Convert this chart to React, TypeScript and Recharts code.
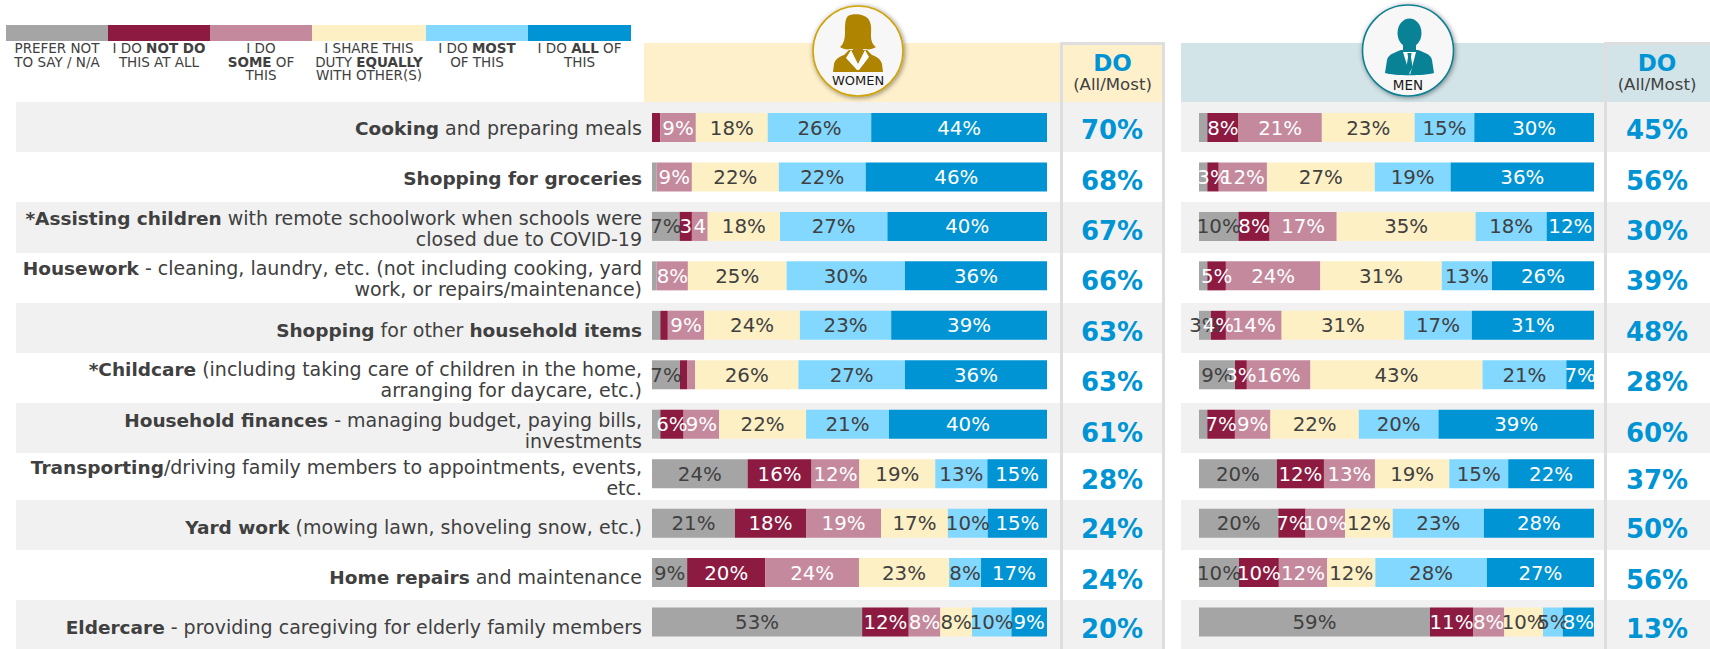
import React from "react";
import { BarChart, Bar, XAxis, YAxis, LabelList } from "recharts";

const FONT = "'DejaVu Sans', Verdana, sans-serif";
const TEXT = "#404040";
const BLUE = "#0094d4";

const seriesKeys = ["none", "not", "some", "equal", "most", "all"];
const seriesColors = ["#a5a5a5", "#8c1a41", "#c5899d", "#fef0c5", "#82d8ff", "#0094d4"];
const labelColors = [TEXT, "#ffffff", "#ffffff", TEXT, TEXT, "#ffffff"];
const legendLabels = [
  ["PREFER NOT", "TO SAY / N/A"],
  ["I DO **NOT DO**", "THIS AT ALL"],
  ["I DO", "**SOME** OF", "THIS"],
  ["I SHARE THIS", "DUTY **EQUALLY**", "WITH OTHER(S)"],
  ["I DO **MOST**", "OF THIS"],
  ["I DO **ALL** OF", "THIS"],
];

const categories = [
  ["**Cooking** and preparing meals"],
  ["**Shopping for groceries**"],
  ["***Assisting children** with remote schoolwork when schools were", "closed due to COVID-19"],
  ["**Housework** - cleaning, laundry, etc. (not including cooking, yard", "work, or repairs/maintenance)"],
  ["**Shopping** for other **household items**"],
  ["***Childcare** (including taking care of children in the home,", "arranging for daycare, etc.)"],
  ["**Household finances** - managing budget, paying bills,", "investments"],
  ["**Transporting**/driving family members to appointments, events,", "etc."],
  ["**Yard work** (mowing lawn, shoveling snow, etc.)"],
  ["**Home repairs** and maintenance"],
  ["**Eldercare** - providing caregiving for elderly family members"],
];

const womenNone = [0, 1.2, 7, 1.2, 2.1, 7.1, 2.1, 24.2, 21, 8.9, 53.2];
const womenNot = [2.1, 0, 3.1, 0, 1.9, 1.9, 5.9, 16.2, 18, 19.8, 11.8];
const womenSome = [9, 8.9, 4, 7.9, 9.2, 1.9, 9, 12.1, 19, 23.7, 8];
const womenEqual = [18.2, 22, 18.3, 25, 24.2, 26.2, 22, 19.2, 16.9, 22.8, 8];
const womenMost = [26.2, 22, 27.2, 30, 23.1, 27, 21, 13.2, 10.1, 8.1, 10];
const womenAll = [44.5, 45.9, 40.4, 36, 39.4, 36, 40, 15.1, 15, 16.7, 9];

const womenNoneLabels = ["", "", "7%", "", "", "7%", "", "24%", "21%", "9%", "53%"];
const womenNotLabels = ["", "", "3", "", "", "", "6%", "16%", "18%", "20%", "12%"];
const womenSomeLabels = ["9%", "9%", "4", "8%", "9%", "", "9%", "12%", "19%", "24%", "8%"];
const womenEqualLabels = ["18%", "22%", "18%", "25%", "24%", "26%", "22%", "19%", "17%", "23%", "8%"];
const womenMostLabels = ["26%", "22%", "27%", "30%", "23%", "27%", "21%", "13%", "10%", "8%", "10%"];
const womenAllLabels = ["44%", "46%", "40%", "36%", "39%", "36%", "40%", "15%", "15%", "17%", "9%"];
const womenDo = ["70%", "68%", "67%", "66%", "63%", "63%", "61%", "28%", "24%", "24%", "20%"];

const menNone = [2.1, 2.1, 10, 2.1, 3, 9.1, 2.1, 19.7, 20.1, 10.1, 58.4];
const menNot = [7.9, 2.9, 7.9, 4.7, 3.8, 3, 7, 11.9, 6.9, 10.1, 10.9];
const menSome = [21.1, 12.2, 17, 23.9, 14.1, 16.1, 9, 12.9, 10, 12.2, 7.9];
const menEqual = [23.5, 27.3, 35.2, 30.7, 31, 43.5, 22.4, 18.8, 12.1, 12.2, 9.8];
const menMost = [15.1, 19.2, 18, 12.7, 17.1, 21.2, 20.2, 14.9, 23.1, 28.2, 5];
const menAll = [30.3, 36.3, 12, 25.8, 30.9, 7, 39.4, 21.7, 27.9, 27.1, 7.9];

const menNoneLabels = ["", "", "10%", "", "3%", "9%", "", "20%", "20%", "10%", "59%"];
const menNotLabels = ["8%", "3%", "8%", "5%", "4%", "3%", "7%", "12%", "7%", "10%", "11%"];
const menSomeLabels = ["21%", "12%", "17%", "24%", "14%", "16%", "9%", "13%", "10%", "12%", "8%"];
const menEqualLabels = ["23%", "27%", "35%", "31%", "31%", "43%", "22%", "19%", "12%", "12%", "10%"];
const menMostLabels = ["15%", "19%", "18%", "13%", "17%", "21%", "20%", "15%", "23%", "28%", "5%"];
const menAllLabels = ["30%", "36%", "12%", "26%", "31%", "7%", "39%", "22%", "28%", "27%", "8%"];
const menDo = ["45%", "56%", "30%", "39%", "48%", "28%", "60%", "37%", "50%", "56%", "13%"];

const buildRows = (values: number[][], labels: string[][], dos: string[]) =>
  categories.map((cat, i) => {
    const row: any = { cat: cat.join(" "), lines: cat, doValue: dos[i] };
    seriesKeys.forEach((k, s) => {
      row[k] = values[s][i];
      row[k + "Label"] = labels[s][i];
    });
    return row;
  });

const womenRows = buildRows(
  [womenNone, womenNot, womenSome, womenEqual, womenMost, womenAll],
  [womenNoneLabels, womenNotLabels, womenSomeLabels, womenEqualLabels, womenMostLabels, womenAllLabels],
  womenDo
);
const menRows = buildRows(
  [menNone, menNot, menSome, menEqual, menMost, menAll],
  [menNoneLabels, menNotLabels, menSomeLabels, menEqualLabels, menMostLabels, menAllLabels],
  menDo
);

// layout only
const rowNudge = [1, 2, 3, 3, 5, 5.5, 7, 5, 4.5, 5.5, 5.5];
const stripes = [[102, 152], [202, 253], [303, 353], [403, 453], [500, 550], [600, 649]];
const legendEdges = [6, 108, 210, 312, 426, 528, 631];

const parts = (s: string) => {
  const out: { t: string; b: boolean }[] = [];
  s.split("**").forEach((t, i) => {
    if (t) out.push({ t, b: i % 2 === 1 });
  });
  return out;
};

function Tick({ y, index, rows, doX, showLabel }: any) {
  const row = rows[index];
  const cy = y + rowNudge[index];
  const lines: string[] = row.lines;
  return (
    <g fontFamily={FONT}>
      {showLabel &&
        lines.map((ln, li) => (
          <text
            key={li}
            x={642}
            y={cy + 6 + (li - (lines.length - 1) / 2) * 21}
            textAnchor="end"
            fill={TEXT}
          >
            {parts(ln).map((p, pi) => (
              <tspan key={pi} fontWeight={p.b ? 700 : 400} fontSize={p.b ? 18.5 : 19}>
                {p.t}
              </tspan>
            ))}
          </text>
        ))}
      <text x={doX} y={cy + 10.5} textAnchor="middle" fontSize={26} fontWeight={700} fill={BLUE}>
        {row.doValue}
      </text>
    </g>
  );
}

function Panel({ rows, width, plotLeft, plotRight, doX, showLabel }: any) {
  return (
    <div style={{ position: "absolute", left: 0, top: 0 }}>
      <BarChart
        width={width}
        height={649}
        data={rows}
        layout="vertical"
        stackOffset="expand"
        barSize={29}
        margin={{ top: 103, bottom: 2, left: 0, right: width - plotRight }}
      >
        <XAxis type="number" hide domain={[0, 1]} />
        <YAxis
          type="category"
          dataKey="cat"
          width={plotLeft}
          axisLine={false}
          tickLine={false}
          interval={0}
          tick={(p: any) => <Tick {...p} rows={rows} doX={doX} showLabel={showLabel} />}
        />
        {seriesKeys.map((k, s) => (
          <Bar key={k} dataKey={k} stackId="a" fill={seriesColors[s]} isAnimationActive={false}>
            <LabelList
              dataKey={k + "Label"}
              position="center"
              fill={labelColors[s]}
              fontSize={19.8}
              fontFamily={FONT}
            />
          </Bar>
        ))}
      </BarChart>
    </div>
  );
}

const box = (left: number, width: number, top: number, height: number, background: string, extra: any = {}) => (
  <div style={{ position: "absolute", left, width, top, height, background, ...extra }} />
);

function DoBox({ left, right }: { left: number; right: number }) {
  return (
    <>
      <div
        style={{
          position: "absolute",
          left,
          width: right - left,
          top: 42,
          height: 607,
          boxSizing: "border-box",
          borderLeft: "3px solid #dedede",
          borderRight: right >= 1710 ? "none" : "3px solid #dedede",
          borderTop: "3px solid #dedede",
        }}
      />
      <div
        style={{
          position: "absolute",
          left,
          width: right - left,
          top: 48,
          textAlign: "center",
          fontFamily: FONT,
          fontWeight: 700,
          fontSize: 23,
          color: BLUE,
          lineHeight: "30px",
        }}
      >
        DO
      </div>
      <div
        style={{
          position: "absolute",
          left,
          width: right - left,
          top: 75,
          textAlign: "center",
          fontFamily: FONT,
          fontSize: 16.6,
          color: TEXT,
          lineHeight: "20px",
        }}
      >
        (All/Most)
      </div>
    </>
  );
}

function Badges() {
  return (
    <svg width={1710} height={110} style={{ position: "absolute", left: 0, top: 0, overflow: "visible" }}>
      <defs>
        <filter id="sh" x="-20%" y="-20%" width="140%" height="140%">
          <feDropShadow dx="1" dy="1" stdDeviation="2.5" floodColor="#000" floodOpacity="0.45" />
        </filter>
      </defs>
      <circle cx={858} cy={51} r={45} fill="#f7f7f7" stroke="#cfa40a" strokeWidth={1.6} filter="url(#sh)" />
      <path
        d="M848 16 C853 13 866 14 869 20 C872 25 871 31 871 36 C871 41 873 45 876 47 C873 49 868 50 866 49 L850 49 C847 50 843 49 840 47 C844 44 845 38 845 32 C845 25 845 19 848 16 Z"
        fill="#af8400"
      />
      <path
        d="M849 50 L867 50 L872 55 C878 57 881 60 882 64 L883 72 L833 72 L834 64 C835 60 838 57 844 55 Z"
        fill="#af8400"
      />
      <path d="M851 50 L858 64 L865 50 L869 57 L859 70 L857 70 L846 58 Z" fill="#ffffff" />
      <path d="M853 46 L863 46 L863 52 L858 62 L853 52 Z" fill="#af8400" />
      <text x={858} y={85} textAnchor="middle" fontFamily={FONT} fontSize={13} fill="#1a1a1a">
        WOMEN
      </text>

      <circle cx={1408} cy={50.5} r={45.5} fill="#f7f7f7" stroke="#0f7f93" strokeWidth={1.6} filter="url(#sh)" />
      <ellipse cx={1409.5} cy={33} rx={12} ry={14.5} fill="#0a8296" />
      <path d="M1403 44 L1416 44 L1416 51 L1409.5 56 L1403 51 Z" fill="#0a8296" />
      <path
        d="M1401 50 L1418 50 C1426 53 1431 55 1432 60 L1434 73 C1425 76 1394 76 1385 73 L1387 60 C1388 55 1393 53 1401 50 Z"
        fill="#0a8296"
      />
      <path d="M1403 52 L1416 52 L1410 75 Z" fill="#ffffff" />
      <path d="M1407.5 53 L1411.5 53 L1411 57 L1412.5 67 L1409.5 73 L1406.5 67 L1408 57 Z" fill="#0a8296" />
      <text x={1408} y={90} textAnchor="middle" fontFamily={FONT} fontSize={13.5} fill="#1a1a1a">
        MEN
      </text>
    </svg>
  );
}

export default function App() {
  return (
    <div style={{ position: "absolute", left: 0, top: 0, width: 1710, height: 649, overflow: "hidden", background: "#fff" }}>
      {legendLabels.map((lines, i) => (
        <React.Fragment key={i}>
          {box(legendEdges[i], legendEdges[i + 1] - legendEdges[i], 25, 16, seriesColors[i])}
          <div
            style={{
              position: "absolute",
              left: legendEdges[i] - 5,
              width: legendEdges[i + 1] - legendEdges[i] + 10,
              top: 42,
              textAlign: "center",
              fontFamily: FONT,
              fontSize: 13.5,
              lineHeight: "13.5px",
              color: TEXT,
              whiteSpace: "nowrap",
            }}
          >
            {lines.map((ln, li) => (
              <div key={li}>
                {parts(ln).map((p, pi) => (
                  <span key={pi} style={{ fontWeight: p.b ? 700 : 400 }}>
                    {p.t}
                  </span>
                ))}
              </div>
            ))}
          </div>
        </React.Fragment>
      ))}

      {box(644, 521, 43, 59, "#fef0cb")}
      {box(1181, 529, 43, 59, "#d2e4e8")}
      {stripes.map(([a, b], i) => (
        <React.Fragment key={i}>
          {box(16, 1149, a, b - a, "#f1f1f1")}
          {box(1181, 529, a, b - a, "#f1f1f1")}
        </React.Fragment>
      ))}

      <DoBox left={1060} right={1165} />
      <DoBox left={1604} right={1710} />

      <Panel rows={womenRows} width={1165} plotLeft={652} plotRight={1047} doX={1112} showLabel={true} />
      <Panel rows={menRows} width={1710} plotLeft={1199} plotRight={1594} doX={1657} showLabel={false} />
      <Badges />
    </div>
  );
}
